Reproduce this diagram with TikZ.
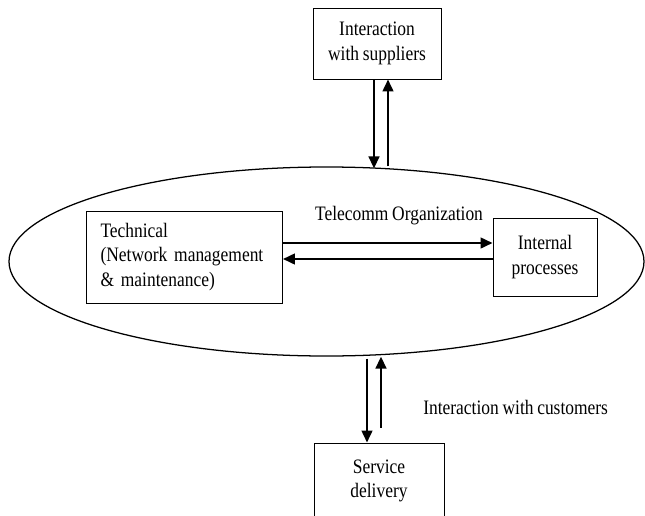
\documentclass[tikz,border=0pt]{standalone}
\usepackage{fontspec}
\setmainfont[FakeStretch=0.85,WordSpace=0.85]{Liberation Serif}
\usepackage{tikz}
\usetikzlibrary{arrows.meta,shapes.geometric}
\tikzset{
  blk/.style={draw=black,line width=0.7pt,inner sep=0pt,align=center},
  org/.style={draw=black,ellipse,line width=0.9pt,inner sep=0pt},
  ar/.style={line width=1.5pt,-{Triangle[length=0.3cm,width=0.27cm]}},
  lbl/.style={inner sep=0pt},
}

\begin{document}
\begin{tikzpicture}[every node/.style={font=\fontsize{14.6}{17.5}\selectfont}]
\useasboundingbox (0,0) rectangle (16.125,-12.9);
\node[org,minimum width=15.875cm,minimum height=4.725cm] (tel) at (8.1625,-6.5375) {};
\node[blk,minimum width=3.2cm,minimum height=1.775cm] (sup) at (9.425,-1.0875) {Interaction\\with suppliers};
\node[blk,text width=4.2cm,inner xsep=0.35cm,align=left,minimum height=2.3cm] (tech) at (4.6125,-6.425) {Technical\\(Network management\\\& maintenance)};
\node[blk,minimum width=2.6cm,minimum height=1.95cm] (int) at (13.625,-6.425) {Internal\\processes};
\node[blk,minimum width=3.25cm,minimum height=1.9cm] (svc) at (9.475,-12.025) {Service\\delivery};
\node[lbl] (tlab) at (9.975,-5.4) {Telecomm Organization};
\node[lbl,anchor=west] (clab) at (10.575,-10.175) {Interaction with customers};
\draw[ar] ([yshift=0.35cm]tech.east) -- ([yshift=0.35cm]tech.east -| int.west);
\draw[ar] ([yshift=-0.05cm]tech.east -| int.west) -- ([yshift=-0.05cm]tech.east);
\draw[ar] ([xshift=-0.075cm]sup.south) -- ([xshift=-0.075cm,yshift=-0.05cm]sup.south |- tel.north);
\draw[ar] ([xshift=0.275cm]sup.south |- tel.north) -- ([xshift=0.275cm]sup.south);
\draw[ar] ([xshift=-0.3cm,yshift=-0.05cm]svc.north |- tel.south) -- ([xshift=-0.3cm]svc.north);
\draw[ar] ([xshift=0.05cm,yshift=0.375cm]svc.north) -- ([xshift=0.05cm]svc.north |- tel.south);
\end{tikzpicture}
\end{document}
